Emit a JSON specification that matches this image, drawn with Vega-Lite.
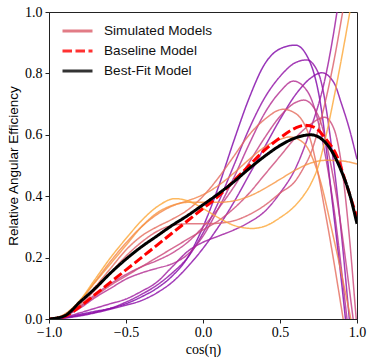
{
  "$schema": "https://vega.github.io/schema/vega-lite/v6.json",
  "autosize": {"type": "none"},
  "padding": {"left": 49, "top": 12, "right": 17, "bottom": 45},
  "width": 308,
  "height": 307,
  "background": "white",
  "config": {
    "view": {"stroke": "#222", "strokeWidth": 1},
    "axis": {"grid": false, "domainColor": "#222", "tickColor": "#222", "tickSize": 4, "labelFont": "Liberation Serif", "labelFontSize": 14, "labelColor": "#000", "titleColor": "#000", "titleFontWeight": "normal"},
    "legend": {"title": null, "orient": "none", "legendX": 12, "legendY": 10, "padding": 0, "symbolType": "stroke", "symbolSize": 900, "symbolStrokeWidth": 3, "clipHeight": 18, "labelFont": "Liberation Sans", "labelFontSize": 13.6, "labelColor": "#111", "labelOffset": 10, "rowPadding": 2}
  },
  "datasets": {
    "sims": [
      {"model":"m01","x":-1,"y":0},{"model":"m01","x":-0.9,"y":0.005},{"model":"m01","x":-0.8,"y":0.015},{"model":"m01","x":-0.7,"y":0.025},{"model":"m01","x":-0.6,"y":0.035},{"model":"m01","x":-0.5,"y":0.05},{"model":"m01","x":-0.4,"y":0.072},{"model":"m01","x":-0.3,"y":0.1},{"model":"m01","x":-0.2,"y":0.14},{"model":"m01","x":-0.1,"y":0.2},{"model":"m01","x":0,"y":0.3},{"model":"m01","x":0.1,"y":0.43},{"model":"m01","x":0.2,"y":0.58},{"model":"m01","x":0.3,"y":0.72},{"model":"m01","x":0.4,"y":0.83},{"model":"m01","x":0.5,"y":0.88},{"model":"m01","x":0.6,"y":0.892},{"model":"m01","x":0.7,"y":0.83},{"model":"m01","x":0.76,"y":0.71},{"model":"m01","x":0.84,"y":0.38},{"model":"m01","x":0.925,"y":0},{"model":"m01","x":1,"y":-0.4},
      {"model":"m02","x":-1,"y":0},{"model":"m02","x":-0.9,"y":0.004},{"model":"m02","x":-0.8,"y":0.012},{"model":"m02","x":-0.7,"y":0.022},{"model":"m02","x":-0.6,"y":0.035},{"model":"m02","x":-0.5,"y":0.055},{"model":"m02","x":-0.4,"y":0.08},{"model":"m02","x":-0.3,"y":0.11},{"model":"m02","x":-0.2,"y":0.15},{"model":"m02","x":-0.1,"y":0.2},{"model":"m02","x":0,"y":0.28},{"model":"m02","x":0.1,"y":0.38},{"model":"m02","x":0.2,"y":0.5},{"model":"m02","x":0.3,"y":0.62},{"model":"m02","x":0.4,"y":0.72},{"model":"m02","x":0.5,"y":0.79},{"model":"m02","x":0.6,"y":0.835},{"model":"m02","x":0.673,"y":0.844},{"model":"m02","x":0.75,"y":0.8},{"model":"m02","x":0.85,"y":0.5},{"model":"m02","x":0.95,"y":0},{"model":"m02","x":1,"y":-0.3},
      {"model":"m03","x":-1,"y":0},{"model":"m03","x":-0.9,"y":0.003},{"model":"m03","x":-0.8,"y":0.01},{"model":"m03","x":-0.7,"y":0.02},{"model":"m03","x":-0.6,"y":0.032},{"model":"m03","x":-0.5,"y":0.045},{"model":"m03","x":-0.4,"y":0.06},{"model":"m03","x":-0.3,"y":0.085},{"model":"m03","x":-0.2,"y":0.12},{"model":"m03","x":-0.1,"y":0.17},{"model":"m03","x":0,"y":0.23},{"model":"m03","x":0.1,"y":0.3},{"model":"m03","x":0.2,"y":0.38},{"model":"m03","x":0.3,"y":0.47},{"model":"m03","x":0.4,"y":0.56},{"model":"m03","x":0.5,"y":0.65},{"model":"m03","x":0.6,"y":0.73},{"model":"m03","x":0.7,"y":0.785},{"model":"m03","x":0.771,"y":0.802},{"model":"m03","x":0.85,"y":0.77},{"model":"m03","x":0.9,"y":0.7},{"model":"m03","x":0.95,"y":0.62},{"model":"m03","x":1,"y":0.52},
      {"model":"m04","x":-1,"y":0},{"model":"m04","x":-0.9,"y":0.006},{"model":"m04","x":-0.8,"y":0.02},{"model":"m04","x":-0.7,"y":0.035},{"model":"m04","x":-0.6,"y":0.05},{"model":"m04","x":-0.5,"y":0.065},{"model":"m04","x":-0.4,"y":0.09},{"model":"m04","x":-0.3,"y":0.12},{"model":"m04","x":-0.2,"y":0.17},{"model":"m04","x":-0.1,"y":0.22},{"model":"m04","x":0,"y":0.25},{"model":"m04","x":0.1,"y":0.27},{"model":"m04","x":0.2,"y":0.29},{"model":"m04","x":0.3,"y":0.315},{"model":"m04","x":0.4,"y":0.35},{"model":"m04","x":0.5,"y":0.41},{"model":"m04","x":0.6,"y":0.49},{"model":"m04","x":0.7,"y":0.62},{"model":"m04","x":0.8,"y":0.8},{"model":"m04","x":0.87,"y":1.0},{"model":"m04","x":0.95,"y":1.3},
      {"model":"m05","x":-1,"y":0},{"model":"m05","x":-0.9,"y":0.01},{"model":"m05","x":-0.8,"y":0.035},{"model":"m05","x":-0.7,"y":0.07},{"model":"m05","x":-0.6,"y":0.1},{"model":"m05","x":-0.5,"y":0.13},{"model":"m05","x":-0.4,"y":0.15},{"model":"m05","x":-0.3,"y":0.165},{"model":"m05","x":-0.2,"y":0.18},{"model":"m05","x":-0.1,"y":0.21},{"model":"m05","x":0,"y":0.27},{"model":"m05","x":0.1,"y":0.36},{"model":"m05","x":0.2,"y":0.46},{"model":"m05","x":0.3,"y":0.57},{"model":"m05","x":0.4,"y":0.67},{"model":"m05","x":0.5,"y":0.74},{"model":"m05","x":0.587,"y":0.775},{"model":"m05","x":0.68,"y":0.74},{"model":"m05","x":0.78,"y":0.57},{"model":"m05","x":0.85,"y":0.36},{"model":"m05","x":0.935,"y":0},{"model":"m05","x":1,"y":-0.3},
      {"model":"m06","x":-1,"y":0},{"model":"m06","x":-0.9,"y":0.01},{"model":"m06","x":-0.8,"y":0.04},{"model":"m06","x":-0.7,"y":0.08},{"model":"m06","x":-0.6,"y":0.115},{"model":"m06","x":-0.5,"y":0.145},{"model":"m06","x":-0.4,"y":0.17},{"model":"m06","x":-0.3,"y":0.19},{"model":"m06","x":-0.2,"y":0.215},{"model":"m06","x":-0.1,"y":0.25},{"model":"m06","x":0,"y":0.3},{"model":"m06","x":0.1,"y":0.36},{"model":"m06","x":0.2,"y":0.43},{"model":"m06","x":0.3,"y":0.51},{"model":"m06","x":0.4,"y":0.59},{"model":"m06","x":0.5,"y":0.66},{"model":"m06","x":0.6,"y":0.705},{"model":"m06","x":0.656,"y":0.713},{"model":"m06","x":0.75,"y":0.66},{"model":"m06","x":0.85,"y":0.45},{"model":"m06","x":0.975,"y":0},{"model":"m06","x":1,"y":-0.1},
      {"model":"m07","x":-1,"y":0},{"model":"m07","x":-0.9,"y":0.01},{"model":"m07","x":-0.8,"y":0.04},{"model":"m07","x":-0.7,"y":0.075},{"model":"m07","x":-0.6,"y":0.11},{"model":"m07","x":-0.5,"y":0.14},{"model":"m07","x":-0.4,"y":0.17},{"model":"m07","x":-0.3,"y":0.2},{"model":"m07","x":-0.2,"y":0.23},{"model":"m07","x":-0.1,"y":0.26},{"model":"m07","x":0,"y":0.29},{"model":"m07","x":0.1,"y":0.32},{"model":"m07","x":0.2,"y":0.36},{"model":"m07","x":0.3,"y":0.41},{"model":"m07","x":0.4,"y":0.47},{"model":"m07","x":0.5,"y":0.53},{"model":"m07","x":0.6,"y":0.59},{"model":"m07","x":0.7,"y":0.635},{"model":"m07","x":0.79,"y":0.657},{"model":"m07","x":0.85,"y":0.62},{"model":"m07","x":0.9,"y":0.5},{"model":"m07","x":0.95,"y":0.27},{"model":"m07","x":0.995,"y":0},{"model":"m07","x":1,"y":-0.03},
      {"model":"m08","x":-1,"y":0},{"model":"m08","x":-0.9,"y":0.01},{"model":"m08","x":-0.8,"y":0.045},{"model":"m08","x":-0.7,"y":0.095},{"model":"m08","x":-0.6,"y":0.15},{"model":"m08","x":-0.5,"y":0.205},{"model":"m08","x":-0.4,"y":0.25},{"model":"m08","x":-0.3,"y":0.285},{"model":"m08","x":-0.2,"y":0.305},{"model":"m08","x":-0.1,"y":0.31},{"model":"m08","x":0,"y":0.31},{"model":"m08","x":0.1,"y":0.312},{"model":"m08","x":0.2,"y":0.32},{"model":"m08","x":0.3,"y":0.34},{"model":"m08","x":0.4,"y":0.37},{"model":"m08","x":0.5,"y":0.41},{"model":"m08","x":0.6,"y":0.45},{"model":"m08","x":0.65,"y":0.49},{"model":"m08","x":0.7,"y":0.54},{"model":"m08","x":0.75,"y":0.62},{"model":"m08","x":0.8,"y":0.72},{"model":"m08","x":0.85,"y":0.84},{"model":"m08","x":0.9,"y":0.98},{"model":"m08","x":1,"y":1.3},
      {"model":"m09","x":-1,"y":0},{"model":"m09","x":-0.9,"y":0.012},{"model":"m09","x":-0.8,"y":0.05},{"model":"m09","x":-0.7,"y":0.105},{"model":"m09","x":-0.6,"y":0.165},{"model":"m09","x":-0.5,"y":0.225},{"model":"m09","x":-0.4,"y":0.27},{"model":"m09","x":-0.3,"y":0.3},{"model":"m09","x":-0.2,"y":0.325},{"model":"m09","x":-0.1,"y":0.355},{"model":"m09","x":0,"y":0.4},{"model":"m09","x":0.1,"y":0.46},{"model":"m09","x":0.2,"y":0.53},{"model":"m09","x":0.3,"y":0.6},{"model":"m09","x":0.4,"y":0.65},{"model":"m09","x":0.52,"y":0.683},{"model":"m09","x":0.6,"y":0.67},{"model":"m09","x":0.7,"y":0.58},{"model":"m09","x":0.8,"y":0.33},{"model":"m09","x":0.91,"y":0},{"model":"m09","x":1,"y":-0.3},
      {"model":"m10","x":-1,"y":0},{"model":"m10","x":-0.9,"y":0.014},{"model":"m10","x":-0.8,"y":0.058},{"model":"m10","x":-0.7,"y":0.122},{"model":"m10","x":-0.6,"y":0.188},{"model":"m10","x":-0.5,"y":0.248},{"model":"m10","x":-0.4,"y":0.3},{"model":"m10","x":-0.3,"y":0.34},{"model":"m10","x":-0.2,"y":0.368},{"model":"m10","x":-0.1,"y":0.385},{"model":"m10","x":0,"y":0.405},{"model":"m10","x":0.1,"y":0.435},{"model":"m10","x":0.2,"y":0.475},{"model":"m10","x":0.3,"y":0.52},{"model":"m10","x":0.4,"y":0.56},{"model":"m10","x":0.5,"y":0.585},{"model":"m10","x":0.56,"y":0.593},{"model":"m10","x":0.65,"y":0.575},{"model":"m10","x":0.75,"y":0.47},{"model":"m10","x":0.85,"y":0.26},{"model":"m10","x":0.96,"y":0},{"model":"m10","x":1,"y":-0.1},
      {"model":"m11","x":-1,"y":0},{"model":"m11","x":-0.9,"y":0.015},{"model":"m11","x":-0.8,"y":0.06},{"model":"m11","x":-0.7,"y":0.12},{"model":"m11","x":-0.6,"y":0.18},{"model":"m11","x":-0.5,"y":0.24},{"model":"m11","x":-0.4,"y":0.3},{"model":"m11","x":-0.3,"y":0.345},{"model":"m11","x":-0.2,"y":0.37},{"model":"m11","x":-0.1,"y":0.38},{"model":"m11","x":0,"y":0.38},{"model":"m11","x":0.1,"y":0.38},{"model":"m11","x":0.2,"y":0.385},{"model":"m11","x":0.3,"y":0.4},{"model":"m11","x":0.4,"y":0.425},{"model":"m11","x":0.5,"y":0.455},{"model":"m11","x":0.6,"y":0.485},{"model":"m11","x":0.7,"y":0.508},{"model":"m11","x":0.8,"y":0.517},{"model":"m11","x":0.9,"y":0.515},{"model":"m11","x":1,"y":0.505},
      {"model":"m12","x":-1,"y":0},{"model":"m12","x":-0.9,"y":0.012},{"model":"m12","x":-0.8,"y":0.06},{"model":"m12","x":-0.7,"y":0.13},{"model":"m12","x":-0.6,"y":0.2},{"model":"m12","x":-0.5,"y":0.262},{"model":"m12","x":-0.4,"y":0.32},{"model":"m12","x":-0.3,"y":0.365},{"model":"m12","x":-0.18,"y":0.392},{"model":"m12","x":-0.1,"y":0.385},{"model":"m12","x":0,"y":0.36},{"model":"m12","x":0.1,"y":0.33},{"model":"m12","x":0.2,"y":0.305},{"model":"m12","x":0.32,"y":0.295},{"model":"m12","x":0.4,"y":0.302},{"model":"m12","x":0.5,"y":0.33},{"model":"m12","x":0.6,"y":0.37},{"model":"m12","x":0.65,"y":0.4},{"model":"m12","x":0.7,"y":0.44},{"model":"m12","x":0.75,"y":0.5},{"model":"m12","x":0.8,"y":0.6},{"model":"m12","x":0.85,"y":0.72},{"model":"m12","x":0.9,"y":0.85},{"model":"m12","x":0.95,"y":0.99},{"model":"m12","x":1,"y":1.14}
    ],
    "baseline": [
      {"x":-1,"y":0},{"x":-0.9,"y":0.008},{"x":-0.8,"y":0.04},{"x":-0.7,"y":0.08},{"x":-0.6,"y":0.12},{"x":-0.5,"y":0.16},{"x":-0.4,"y":0.2},{"x":-0.3,"y":0.24},{"x":-0.2,"y":0.28},{"x":-0.1,"y":0.32},{"x":0,"y":0.36},{"x":0.1,"y":0.4},{"x":0.2,"y":0.45},{"x":0.3,"y":0.5},{"x":0.4,"y":0.55},{"x":0.5,"y":0.59},{"x":0.6,"y":0.622},{"x":0.66,"y":0.631},{"x":0.72,"y":0.625},{"x":0.8,"y":0.585},{"x":0.87,"y":0.53},{"x":0.93,"y":0.44},{"x":1,"y":0.33}
    ],
    "best": [
      {"x":-1,"y":0},{"x":-0.9,"y":0.01},{"x":-0.8,"y":0.055},{"x":-0.7,"y":0.1},{"x":-0.6,"y":0.15},{"x":-0.5,"y":0.195},{"x":-0.4,"y":0.235},{"x":-0.3,"y":0.27},{"x":-0.2,"y":0.305},{"x":-0.1,"y":0.337},{"x":0,"y":0.372},{"x":0.1,"y":0.408},{"x":0.2,"y":0.447},{"x":0.3,"y":0.49},{"x":0.4,"y":0.53},{"x":0.5,"y":0.565},{"x":0.6,"y":0.59},{"x":0.7,"y":0.6},{"x":0.8,"y":0.572},{"x":0.9,"y":0.48},{"x":0.95,"y":0.41},{"x":1,"y":0.31}
    ]
  },
  "layer": [
    {
      "data": {"name": "sims"},
      "mark": {"type": "line", "strokeWidth": 1.5, "opacity": 0.8, "clip": true, "interpolate": "monotone"},
      "encoding": {
        "x": {"field": "x", "type": "quantitative", "scale": {"domain": [-1, 1], "nice": false, "zero": false},
          "axis": {"values": [-1, -0.5, 0, 0.5, 1], "format": ".1f", "labelFlush": false, "labelPadding": 2, "title": "cos(η)", "titleFont": "Liberation Serif", "titleFontSize": 14, "titlePadding": 3}},
        "y": {"field": "y", "type": "quantitative", "scale": {"domain": [0, 1], "nice": false, "zero": false},
          "axis": {"values": [0, 0.2, 0.4, 0.6, 0.8, 1], "format": ".1f", "labelPadding": 3, "title": "Relative Angular Efficiency", "titleFont": "Liberation Sans", "titleFontSize": 13.5, "titlePadding": 4}},
        "color": {"field": "model", "type": "nominal",
          "scale": {"domain": ["Simulated Models", "Baseline Model", "Best-Fit Model", "m01", "m02", "m03", "m04", "m05", "m06", "m07", "m08", "m09", "m10", "m11", "m12"],
            "range": ["#db5c68", "#ff0000", "#000000", "#7e03a8", "#8f0da4", "#8a09a5", "#9c179e", "#b12a90", "#c03a83", "#cc4778", "#db5c68", "#e56b5d", "#f2844b", "#f89540", "#fca636"]},
          "legend": {"values": ["Simulated Models", "Baseline Model", "Best-Fit Model"]}
        },
        "strokeDash": {"field": "model", "type": "nominal",
          "scale": {"domain": ["Simulated Models", "Baseline Model", "Best-Fit Model", "m01", "m02", "m03", "m04", "m05", "m06", "m07", "m08", "m09", "m10", "m11", "m12"],
            "range": [[1,0], [9.5,3.5], [1,0], [1,0], [1,0], [1,0], [1,0], [1,0], [1,0], [1,0], [1,0], [1,0], [1,0], [1,0], [1,0]]},
          "legend": {"values": ["Simulated Models", "Baseline Model", "Best-Fit Model"]}
        }
      }
    },
    {
      "data": {"name": "baseline"},
      "mark": {"type": "line", "strokeWidth": 3, "clip": true, "interpolate": "monotone"},
      "encoding": {
        "x": {"field": "x", "type": "quantitative"},
        "y": {"field": "y", "type": "quantitative"},
        "color": {"datum": "Baseline Model", "type": "nominal"},
        "strokeDash": {"datum": "Baseline Model", "type": "nominal"}
      }
    },
    {
      "data": {"name": "best"},
      "mark": {"type": "line", "strokeWidth": 3, "clip": true, "interpolate": "monotone"},
      "encoding": {
        "x": {"field": "x", "type": "quantitative"},
        "y": {"field": "y", "type": "quantitative"},
        "color": {"datum": "Best-Fit Model", "type": "nominal"},
        "strokeDash": {"datum": "Best-Fit Model", "type": "nominal"}
      }
    }
  ]
}
